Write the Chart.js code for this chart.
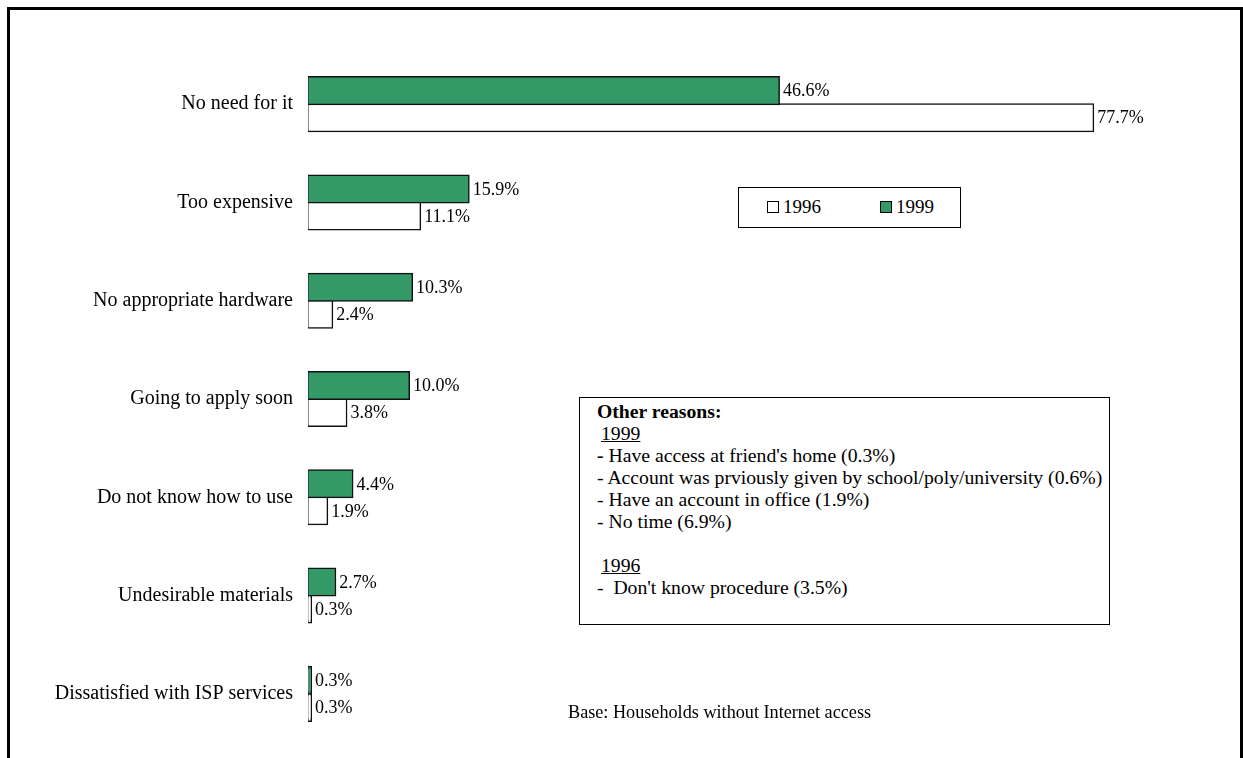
<!DOCTYPE html>
<html>
<head>
<meta charset="utf-8">
<script src="https://cdn.jsdelivr.net/npm/chart.js@4.4.1/dist/chart.umd.min.js"></script>
<style>
    html, body { margin: 0; padding: 0; background: #fff; overflow: hidden; }
    body { width: 1243px; height: 758px; position: relative; font-family: "Liberation Serif", "Times New Roman", serif; color: #000; }
    #frame { position: absolute; left: 7px; top: 7px; width: 1230px; height: 800px; border: 3px solid #000; border-bottom: none; }
    #wrap { position: absolute; left: 0; top: 0; width: 1243px; height: 758px; }
    #legendBox { position: absolute; left: 738px; top: 187px; width: 221px; height: 39px; border: 1px solid #000; background: #fff; font-size: 19px; }
    #legendBox .item { position: absolute; top: 8px; line-height: 22px; }
    #legendBox .sw { display: inline-block; width: 10px; height: 10px; border: 1px solid #000; margin-right: 4px; vertical-align: 0px; }
    #notes { position: absolute; left: 579px; top: 397px; width: 531px; height: 228px; border: 1px solid #000; background: #fff; font-size: 19.7px; line-height: 22px; padding: 2px 0 0 17px; box-sizing: border-box; }
    #notes .yr { text-decoration: underline; margin-left: 4px; }
    #base { position: absolute; left: 568px; top: 701px; font-size: 18.2px; line-height: 22px; }
</style>
</head>
<body>
<div id="frame"></div>
<div id="wrap"><canvas id="chartReasons" width="1243" height="758"></canvas></div>

<div id="legendBox">
    <span class="item" style="left: 28px;"><span class="sw" style="background:#fff;"></span>1996</span>
    <span class="item" style="left: 141px;"><span class="sw" style="background:#339966;"></span>1999</span>
</div>

<div id="notes">
    <div><b>Other reasons:</b></div>
    <div class="yr">1999</div>
    <div><b>-</b> Have access at friend's home (0.3%)</div>
    <div>- Account was prviously given by school/poly/university (0.6%)</div>
    <div>- Have an account in office (1.9%)</div>
    <div>- No time (6.9%)</div>
    <div>&nbsp;</div>
    <div class="yr">1996</div>
    <div>-&nbsp; Don't know procedure (3.5%)</div>
</div>

<div id="base">Base: Households without Internet access</div>

<script>
// Reasons for not having Internet access at home
const reasons = [
    'No need for it',
    'Too expensive',
    'No appropriate hardware',
    'Going to apply soon',
    'Do not know how to use',
    'Undesirable materials',
    'Dissatisfied with ISP services'
];
const values1999 = [46.6, 15.9, 10.3, 10.0, 4.4, 2.7, 0.3];
const values1996 = [77.7, 11.1, 2.4, 3.8, 1.9, 0.3, 0.3];

const GREEN = '#339966';
const FONT = "'Liberation Serif', 'Times New Roman', serif";

// draws "xx.x%" at the end of every bar
const valueLabels = {
    id: 'valueLabels',
    afterDatasetsDraw(chart) {
        const ctx = chart.ctx;
        ctx.save();
        ctx.font = '18px ' + FONT;
        ctx.fillStyle = '#000';
        ctx.textAlign = 'left';
        ctx.textBaseline = 'middle';
        chart.data.datasets.forEach((ds, i) => {
            chart.getDatasetMeta(i).data.forEach((bar, j) => {
                ctx.fillText(ds.data[j].toFixed(1) + '%', bar.x + 4, bar.y + 1);
            });
        });
        ctx.restore();
    }
};

new Chart(document.getElementById('chartReasons'), {
    type: 'bar',
    data: {
        labels: reasons,
        datasets: [
            {
                label: '1999',
                data: values1999,
                backgroundColor: GREEN,
                borderColor: '#111',
                borderWidth: 1.5,
                borderSkipped: false,
                inflateAmount: 1
            },
            {
                label: '1996',
                data: values1996,
                backgroundColor: '#fff',
                borderColor: '#111',
                borderWidth: 1.5,
                borderSkipped: false,
                inflateAmount: 1
            }
        ]
    },
    options: {
        indexAxis: 'y',
        responsive: false,
        animation: false,
        layout: {
            padding: { left: 0, right: 76, top: 55, bottom: 15 }
        },
        plugins: {
            legend: { display: false },
            tooltip: { enabled: false }
        },
        datasets: {
            bar: { barPercentage: 1, categoryPercentage: 0.55 }
        },
        scales: {
            x: {
                display: false,
                min: 0,
                max: 85
            },
            y: {
                grid: { display: false },
                border: { display: false },
                ticks: {
                    color: '#000',
                    padding: 7,
                    font: { family: FONT, size: 20 }
                },
                afterFit(scale) {
                    scale.width = 308;
                    scale.paddingTop = 0;
                    scale.paddingBottom = 0;
                }
            }
        }
    },
    plugins: [valueLabels]
});
</script>
</body>
</html>
